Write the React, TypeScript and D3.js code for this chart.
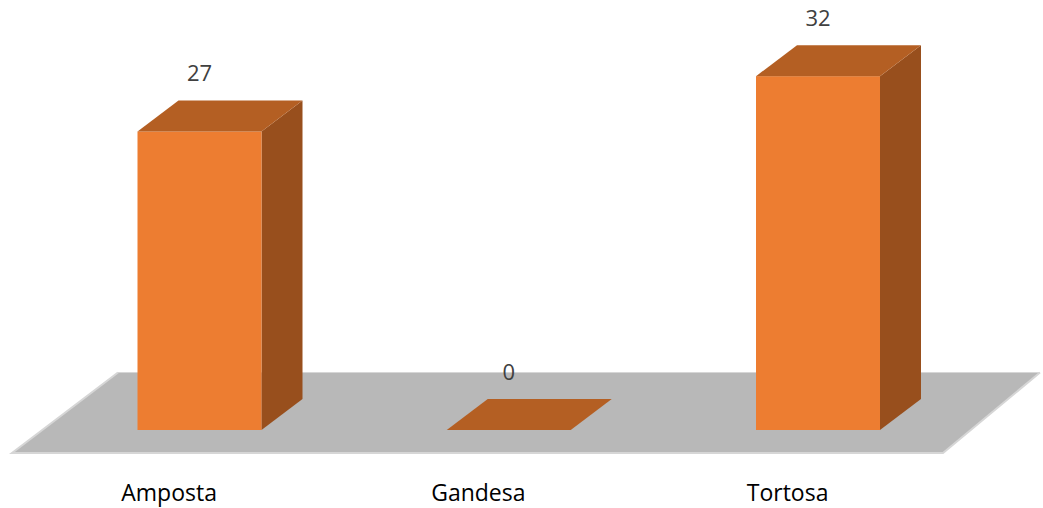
import React from "react";
import * as d3 from "d3";

const categories = ["Amposta", "Gandesa", "Tortosa"];
const values = [27, 0, 32];

const W = 1043;
const H = 508;

// 3D layout: front plane of bars, depth offset of each bar, floor slab
const baseY = 430;
const depth = { dx: 41, dy: -31 };
const barWidth = 124;
const floorFront = { y: 453, left: 12, right: 943 };
const floorBack = { y: 372.5, left: 118, right: 1040 };

const COLORS = {
  front: "#ED7D31",
  top: "#B45F23",
  side: "#984F1D",
  floor: "#B8B8B8",
  floorEdge: "#D6D6D6",
  value: "#404040",
  category: "#000000",
};

export default function App() {
  const x = d3.scalePoint<string>().domain(categories).range([199.5, 818]);
  const y = d3.scaleLinear().domain([0, 35]).range([baseY, baseY - 387]);

  const poly = (pts: [number, number][]) => d3.line()(pts) + "Z";

  // front-edge shift used for category labels (front of the floor)
  const labelShift = ((floorFront.y - baseY) / depth.dy) * depth.dx;

  return (
    <svg width={W} height={H} style={{ position: "absolute", left: 0, top: 0 }}>
      <path
        d={poly([
          [floorFront.left, floorFront.y],
          [floorFront.right, floorFront.y],
          [floorBack.right, floorBack.y],
          [floorBack.left, floorBack.y],
        ])}
        fill={COLORS.floor}
      />
      <path
        d={d3.line()([
          [floorBack.left, floorBack.y],
          [floorFront.left, floorFront.y],
          [floorFront.right, floorFront.y],
          [floorBack.right, floorBack.y],
        ]) as string}
        fill="none"
        stroke={COLORS.floorEdge}
        strokeWidth={2}
      />
      <line
        x1={floorBack.left}
        x2={floorBack.right}
        y1={floorBack.y}
        y2={floorBack.y}
        stroke={COLORS.floorEdge}
        strokeWidth={1}
      />
      {categories.map((c, i) => {
        const cx = x(c)!;
        const x0 = cx - barWidth / 2;
        const x1 = cx + barWidth / 2;
        const yt = y(values[i]);
        const { dx, dy } = depth;
        return (
          <g key={c}>
            {yt < baseY && (
              <>
                <path
                  d={poly([
                    [x1, baseY],
                    [x1 + dx, baseY + dy],
                    [x1 + dx, yt + dy],
                    [x1, yt],
                  ])}
                  fill={COLORS.side}
                />
                <rect x={x0} y={yt} width={barWidth} height={baseY - yt} fill={COLORS.front} />
              </>
            )}
            <path
              d={poly([
                [x0, yt],
                [x1, yt],
                [x1 + dx, yt + dy],
                [x0 + dx, yt + dy],
              ])}
              fill={COLORS.top}
            />
            <text
              x={cx}
              y={yt + dy - 19}
              textAnchor="middle"
              fontFamily="'Open Sans', sans-serif"
              fontSize={22}
              fill={COLORS.value}
            >
              {values[i]}
            </text>
            <text
              x={cx + labelShift}
              y={501}
              textAnchor="middle"
              fontFamily="'Open Sans', sans-serif"
              fontSize={23}
              fill={COLORS.category}
            >
              {c}
            </text>
          </g>
        );
      })}
    </svg>
  );
}
